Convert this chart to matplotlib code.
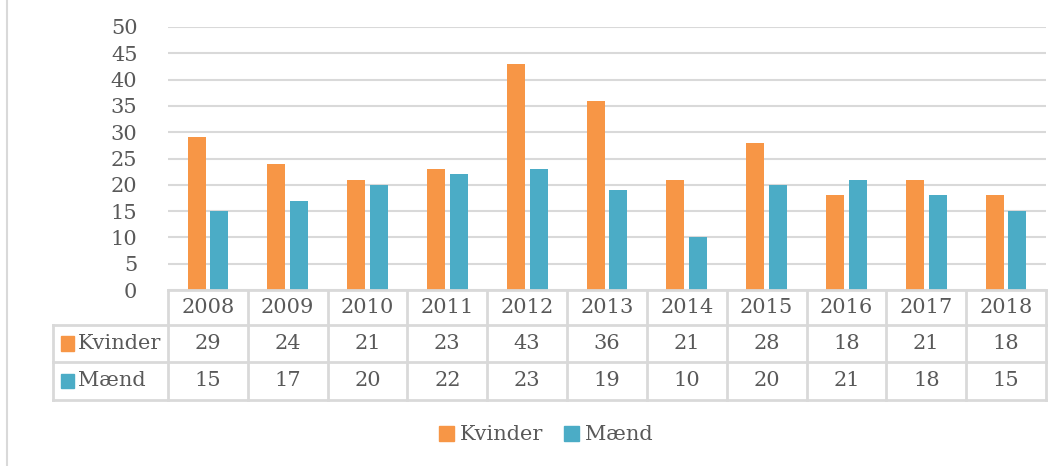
import matplotlib.pyplot as plt
from matplotlib.lines import Line2D
from matplotlib.patches import Rectangle
import numpy as np

years = ['2008', '2009', '2010', '2011', '2012', '2013', '2014', '2015', '2016', '2017', '2018']
kvinder = [29, 24, 21, 23, 43, 36, 21, 28, 18, 21, 18]
maend = [15, 17, 20, 22, 23, 19, 10, 20, 21, 18, 15]
series = [('Kvinder', kvinder, '#F79646'), ('Mænd', maend, '#4BACC6')]

W, H = 1061, 466
plt.rcParams['font.family'] = ['DejaVu Serif']
text_color = '#595959'
grid_color = '#D9D9D9'

fig = plt.figure(figsize=(W / 100, H / 100), dpi=100)

# plot area in pixels
px_l, px_r, px_t, px_b = 168, 1046, 27, 290
ax = fig.add_axes([px_l / W, 1 - px_b / H, (px_r - px_l) / W, (px_b - px_t) / H])

x = np.arange(len(years))
bw = 0.225
gap = 0.06
for i, (name, vals, col) in enumerate(series):
    off = (i - 0.5) * (bw + gap)
    ax.bar(x + off, vals, width=bw, color=col, label=name, zorder=3)

ax.set_xlim(-0.5, len(years) - 0.5)
ax.set_ylim(0, 50)
ax.set_yticks(range(0, 51, 5))
ax.set_xticks([])
ax.yaxis.grid(True, color=grid_color, linewidth=1.5, zorder=0)
for s in ax.spines.values():
    s.set_visible(False)
fs = 15
ax.tick_params(axis='y', length=0, pad=22, labelsize=fs, labelcolor=text_color)

# data table below the chart
tab_l, tab_b = 53, 400
cat_px = (px_r - px_l) / len(years)
label_w = (px_l - tab_l) / cat_px
tax = fig.add_axes([tab_l / W, 1 - tab_b / H, (px_r - tab_l) / W, (tab_b - px_b) / H])
tax.set_xlim(-0.5 - label_w, len(years) - 0.5)
tax.set_ylim(3, 0)
tax.axis('off')
row_h = [0, 35 / 110, 72 / 110, 1.0]
rows = [r * 3 for r in row_h]
lw = 2
# horizontal lines
tax.plot([-0.5, len(years) - 0.5], [rows[0], rows[0]], color=grid_color, lw=lw, clip_on=False)
for r in rows[1:]:
    tax.plot([-0.5 - label_w, len(years) - 0.5], [r, r], color=grid_color, lw=lw, clip_on=False)
# vertical lines
for j in range(len(years) + 1):
    tax.plot([j - 0.5, j - 0.5], [rows[0], rows[3]], color=grid_color, lw=lw, clip_on=False)
tax.plot([-0.5 - label_w, -0.5 - label_w], [rows[1], rows[3]], color=grid_color, lw=lw, clip_on=False)

for j, yr in enumerate(years):
    tax.text(j, (rows[0] + rows[1]) / 2, yr, ha='center', va='center', fontsize=fs, color=text_color)
for i, (name, vals, col) in enumerate(series):
    yc = (rows[i + 1] + rows[i + 2]) / 2
    for j, v in enumerate(vals):
        tax.text(j, yc, str(v), ha='center', va='center', fontsize=fs, color=text_color)
    sq_w = 13 / cat_px
    tax.add_patch(Rectangle((-0.5 - label_w + 8 / cat_px, yc - 0.2), sq_w, 0.4,
                            color=col, clip_on=False))
    tax.text(-0.5 - label_w + 25 / cat_px, yc, name, ha='left', va='center', fontsize=fs,
             color=text_color)

# left frame line
fig.add_artist(Line2D([7 / W, 7 / W], [0, 1], color=grid_color, lw=1.5))

handles = [Rectangle((0, 0), 1, 1, color=c) for _, _, c in series]
fig.legend(handles, [n for n, _, _ in series], loc='center', bbox_to_anchor=(546 / W, 1 - 435 / H),
           ncol=2, frameon=False, fontsize=fs, labelcolor=text_color, handlelength=0.7,
           handleheight=0.7, handletextpad=0.3, columnspacing=1.0)

fig.savefig('out.png', dpi=100)
